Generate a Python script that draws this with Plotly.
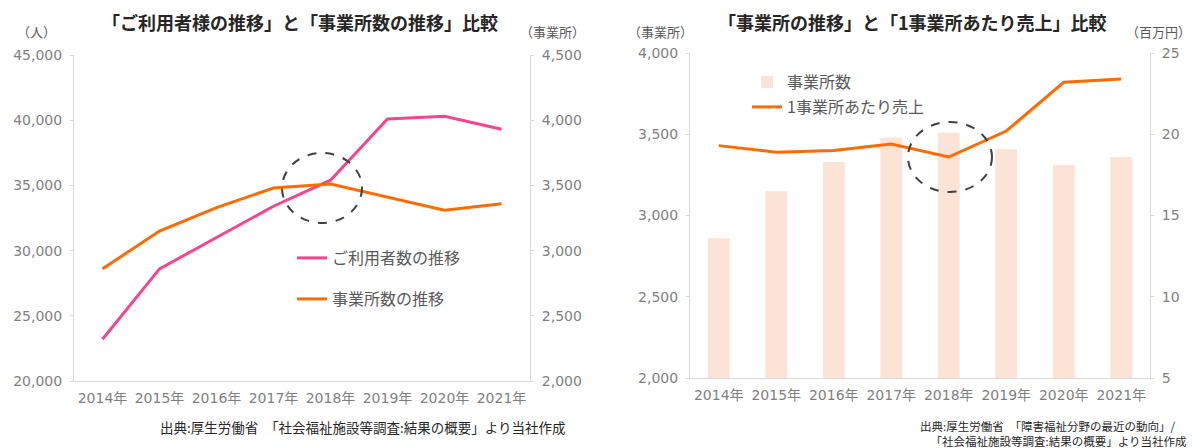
import plotly.graph_objects as go

years = ["2014年", "2015年", "2016年", "2017年", "2018年", "2019年", "2020年", "2021年"]
users = [23200, 28600, 31000, 33400, 35400, 40100, 40300, 39300]
offices = [2860, 3150, 3330, 3480, 3510, 3410, 3310, 3360]
sales_per_office = [19.3, 18.9, 19.0, 19.4, 18.6, 20.2, 23.2, 23.4]

left_title = "「ご利用者様の推移」と「事業所数の推移」比較"
right_title = "「事業所の推移」と「1事業所あたり売上」比較"

W, H = 1192, 448
PINK = "#F4468F"
ORANGE = "#FF6B00"
PEACH = "#FBE3D6"
GRAY_TXT = "#7F7F7F"
AXIS_LINE = "#D9D9D9"
FONT = "DejaVu Sans, Noto Sans CJK JP, sans-serif"
JP = "Noto Sans CJK JP, sans-serif"

def px_x(p):
    return p / W

def px_y(p):
    return 1 - p / H

fig = go.Figure()
fig.add_trace(go.Scatter(x=years, y=users, name="ご利用者数の推移", mode="lines",
                         line=dict(color=PINK, width=3), xaxis="x", yaxis="y", legend="legend"))
fig.add_trace(go.Scatter(x=years, y=offices, name="事業所数の推移", mode="lines",
                         line=dict(color=ORANGE, width=3), xaxis="x", yaxis="y2", legend="legend2"))
fig.add_trace(go.Bar(x=years, y=offices, name="事業所数", marker=dict(color=PEACH, line=dict(width=0)),
                     width=0.38, xaxis="x2", yaxis="y3", legend="legend3"))
fig.add_trace(go.Scatter(x=years, y=sales_per_office, name="1事業所あたり売上", mode="lines",
                         line=dict(color=ORANGE, width=3), xaxis="x2", yaxis="y4", legend="legend4"))

axis_common = dict(showline=True, linecolor=AXIS_LINE, linewidth=1, showgrid=False, zeroline=False,
                   automargin=False, tickfont=dict(family=FONT, size=14, color=GRAY_TXT))

xax_common = dict(axis_common, ticks="", ticklabelstandoff=4)
yax_common = dict(axis_common, ticks="outside", ticklen=3, tickcolor=AXIS_LINE, ticklabelstandoff=5)

legend_common = dict(bgcolor="rgba(0,0,0,0)", font=dict(family=JP, size=16, color="#595959"),
                     xanchor="left", yanchor="middle", itemwidth=30)

fig.update_layout(
    width=W, height=H, autosize=False,
    margin=dict(l=0, r=0, t=0, b=0, pad=0, autoexpand=False),
    paper_bgcolor="white", plot_bgcolor="white",
    showlegend=True,
    xaxis=dict(xax_common, domain=[px_x(74), px_x(530)], anchor="y", type="category",
               range=[-0.5, 7.5]),
    yaxis=dict(yax_common, domain=[px_y(381), px_y(55)], range=[20000, 45000], dtick=5000,
               tickformat=",", anchor="x"),
    yaxis2=dict(yax_common, overlaying="y", side="right", anchor="x", range=[2000, 4500],
                dtick=500, tickformat=","),
    xaxis2=dict(xax_common, domain=[px_x(690), px_x(1150)], anchor="y3", type="category",
                range=[-0.5, 7.5]),
    yaxis3=dict(yax_common, domain=[px_y(378), px_y(53)], range=[2000, 4000], dtick=500,
                tickformat=",", anchor="x2"),
    yaxis4=dict(yax_common, overlaying="y3", side="right", anchor="x2", range=[5, 25], dtick=5),
    legend=dict(legend_common, x=px_x(292), y=px_y(258)),
    legend2=dict(legend_common, x=px_x(292), y=px_y(299)),
    legend3=dict(legend_common, x=px_x(747), y=px_y(82)),
    legend4=dict(legend_common, x=px_x(747), y=px_y(107)),
)

annos = [
    dict(text="<b>" + left_title + "</b>", x=px_x(300), y=px_y(22), font=dict(family=JP, size=18, color="#262626")),
    dict(text="<b>" + right_title + "</b>", x=px_x(912), y=px_y(22), font=dict(family=JP, size=18, color="#262626")),
    dict(text="（人）", x=px_x(36), y=px_y(32), font=dict(family=JP, size=13, color="#595959")),
    dict(text="（事業所）", x=px_x(552), y=px_y(32), font=dict(family=JP, size=13, color="#595959")),
    dict(text="（事業所）", x=px_x(660), y=px_y(32), font=dict(family=JP, size=13, color="#595959")),
    dict(text="（百万円）", x=px_x(1158), y=px_y(32), font=dict(family=JP, size=13, color="#595959")),
]
for a in annos:
    fig.add_annotation(xref="paper", yref="paper", showarrow=False, xanchor="center", yanchor="middle", **a)

src_left = "出典:厚生労働省　「社会福祉施設等調査:結果の概要」より当社作成"
src_right = "出典:厚生労働省　「障害福祉分野の最近の動向」/　<br>「社会福祉施設等調査:結果の概要」より当社作成"

fig.add_annotation(xref="paper", yref="paper", showarrow=False, text=src_left, x=px_x(567), y=px_y(427),
                   xanchor="right", yanchor="middle", borderpad=0,
                   font=dict(family=JP, size=13.5, color="#262626"))
fig.add_annotation(xref="paper", yref="paper", showarrow=False, text=src_right, x=px_x(1188), y=px_y(433),
                   xanchor="right", yanchor="middle", align="right", borderpad=0,
                   font=dict(family=JP, size=11.5, color="#262626"))

# dashed highlight circles
for cx, cy, rx, ry in [(322, 188, 40, 35), (950, 157, 42, 35)]:
    fig.add_shape(type="circle", xref="paper", yref="paper",
                  x0=px_x(cx - rx), x1=px_x(cx + rx), y0=px_y(cy + ry), y1=px_y(cy - ry),
                  line=dict(color="#404040", width=2, dash="dash"))

fig.write_html("out.html", config={"displayModeBar": False},
               post_script="document.body.style.margin='0';")
